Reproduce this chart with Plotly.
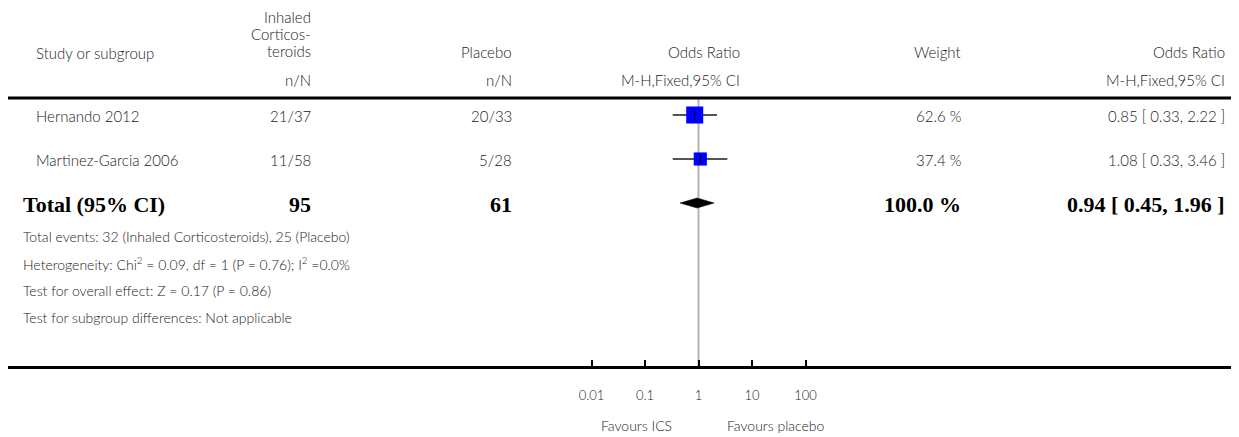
import plotly.graph_objects as go

# ---------------- data ----------------
studies = ["Hernando 2012", "Martinez-Garcia 2006"]
ics_events = [21, 11]
ics_total = [37, 58]
pla_events = [20, 5]
pla_total = [33, 28]
odds_ratio = [0.85, 1.08]
ci_low = [0.33, 0.33]
ci_high = [2.22, 3.46]
weights = [62.6, 37.4]

total_label = "Total (95% CI)"
total_ics_n = 95
total_pla_n = 61
total_weight = 100.0
total_or = 0.94
total_low = 0.45
total_high = 1.96

tick_vals = [0.01, 0.1, 1, 10, 100]
tick_text = ["0.01", "0.1", "1", "10", "100"]
favours_left = "Favours ICS"
favours_right = "Favours placebo"

footnotes = [
    "Total events: 32 (Inhaled Corticosteroids), 25 (Placebo)",
    "Heterogeneity: Chi<sup>2</sup> = 0.09, df = 1 (P = 0.76); I<sup>2</sup> =0.0%",
    "Test for overall effect: Z = 0.17 (P = 0.86)",
    "Test for subgroup differences: Not applicable",
]

# ---------------- layout constants (reference-window pixels) ----------------
W, H = 1239, 437
OFF = 8                      # default page body margin
FW, FH = W - OFF, H - OFF    # figure size so it fits in the window
CENTER_PX = 698.5
DECADE_PX = 53.5
HEADER_LINE_Y = 98
AXIS_LINE_Y = 367
ROW_Y = [115, 159, 203]
FOOT_Y = [236, 263, 290, 317]

COL_STUDY = 35
COL_TOTAL = 22
COL_ICS = 312
COL_PLA = 513
COL_OR_HDR = 741
COL_W = 962
COL_OR = 1226

FONT = "Lato"
TXT = "#222222"
FS = 15
BOLD_FONT = "Liberation Serif"
BFS = 22

fig = go.Figure()

# null line
fig.add_trace(go.Scatter(x=[1, 1], y=[HEADER_LINE_Y, AXIS_LINE_Y], mode="lines",
                         line=dict(color="#b3b3b3", width=2), hoverinfo="skip"))

# study CIs + squares
sizes = [2.15 * (w ** 0.5) for w in weights]
fig.add_trace(go.Scatter(
    x=odds_ratio, y=ROW_Y[:2], mode="markers",
    marker=dict(symbol="square", size=sizes, color="#0000ff", opacity=1,
                line=dict(width=0, color="#0000ff")),
    error_x=dict(type="data", symmetric=False,
                 array=[h - o for h, o in zip(ci_high, odds_ratio)],
                 arrayminus=[o - l for o, l in zip(odds_ratio, ci_low)],
                 color="#555555", thickness=2, width=0),
    hoverinfo="skip"))
fig.add_trace(go.Scatter(
    x=odds_ratio, y=ROW_Y[:2], mode="markers",
    marker=dict(symbol="line-ns", size=6, line=dict(width=1, color="#000000")),
    hoverinfo="skip"))

# pooled diamond
ry = ROW_Y[2]
fig.add_trace(go.Scatter(
    x=[total_low, total_or, total_high, total_or, total_low],
    y=[ry, ry - 5, ry, ry + 5, ry], mode="lines", fill="toself",
    fillcolor="#000000", line=dict(width=0.5, color="#000000"), hoverinfo="skip"))

anns = []


def px_x(px):
    return (px - OFF) / FW


def txt(x, y, s, anchor="left", bold=False, size=None):
    anns.append(dict(
        x=px_x(x), xref="paper", y=y, yref="y", text=s, showarrow=False,
        xanchor=anchor, yanchor="middle", borderpad=0,
        font=dict(family=BOLD_FONT if bold else FONT,
                  size=size or (BFS if bold else FS),
                  color="#000000" if bold else TXT,
                  weight="bold" if bold else 300)))


# header
txt(COL_STUDY, 53, "Study or subgroup")
txt(COL_ICS, 17, "Inhaled", "right")
txt(COL_ICS, 34, "Corticos-", "right")
txt(COL_ICS, 51, "teroids", "right")
txt(COL_ICS, 80, "n/N", "right")
txt(COL_PLA, 52, "Placebo", "right")
txt(COL_PLA, 80, "n/N", "right")
txt(COL_OR_HDR, 52, "Odds Ratio", "right")
txt(COL_OR_HDR, 80, "M-H,Fixed,95% CI", "right")
txt(COL_W, 52, "Weight", "right")
txt(COL_OR, 52, "Odds Ratio", "right")
txt(COL_OR, 80, "M-H,Fixed,95% CI", "right")

# study rows
for i, s in enumerate(studies):
    y = ROW_Y[i] + 1
    txt(COL_STUDY, y, s)
    txt(COL_ICS, y, f"{ics_events[i]}/{ics_total[i]}", "right")
    txt(COL_PLA, y, f"{pla_events[i]}/{pla_total[i]}", "right")
    txt(COL_W, y, f"{weights[i]:.1f} %", "right")
    txt(COL_OR, y, f"{odds_ratio[i]:.2f} [ {ci_low[i]:.2f}, {ci_high[i]:.2f} ]", "right")

# total row
y = ROW_Y[2] + 1
txt(COL_TOTAL, y, total_label, bold=True)
txt(COL_ICS, y, str(total_ics_n), "right", bold=True)
txt(COL_PLA, y, str(total_pla_n), "right", bold=True)
txt(COL_W, y, f"{total_weight:.1f} %", "right", bold=True)
txt(COL_OR, y, f"{total_or:.2f} [ {total_low:.2f}, {total_high:.2f} ]", "right", bold=True)

for fy, f in zip(FOOT_Y, footnotes):
    txt(COL_TOTAL, fy, f, size=14)

# favours labels
anns.append(dict(x=0, xref="x", y=425, yref="y", text=favours_left, showarrow=False,
                 xanchor="right", xshift=-26, yanchor="middle", borderpad=0,
                 font=dict(family=FONT, size=14, color=TXT, weight=300)))
anns.append(dict(x=0, xref="x", y=425, yref="y", text=favours_right, showarrow=False,
                 xanchor="left", xshift=27, yanchor="middle", borderpad=0,
                 font=dict(family=FONT, size=14, color=TXT, weight=300)))

shapes = [dict(type="line", xref="paper", yref="y", x0=0, x1=1,
               y0=HEADER_LINE_Y, y1=HEADER_LINE_Y, line=dict(color="#000000", width=3))]

left_log = (OFF - CENTER_PX) / DECADE_PX
right_log = (W - CENTER_PX) / DECADE_PX

fig.update_layout(
    width=FW, height=FH, margin=dict(l=0, r=0, t=0, b=0),
    paper_bgcolor="white", plot_bgcolor="white", showlegend=False,
    annotations=anns, shapes=shapes,
    xaxis=dict(type="log", domain=[0, 1], range=[left_log, right_log],
               anchor="free", position=1 - (AXIS_LINE_Y - OFF) / FH,
               showline=True, linewidth=3, linecolor="#000000",
               ticks="inside", ticklen=6, tickwidth=2, tickcolor="#000000",
               tickvals=tick_vals, ticktext=tick_text, ticklabelstandoff=15,
               tickfont=dict(family=FONT, size=13, color=TXT, weight=300),
               showgrid=False, zeroline=False, fixedrange=True),
    yaxis=dict(range=[H, OFF], domain=[0, 1], visible=False, fixedrange=True),
)

fig.write_html("out.html")
